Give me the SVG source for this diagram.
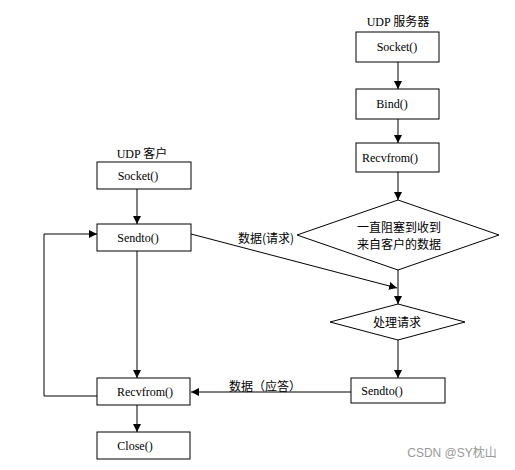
<svg xmlns="http://www.w3.org/2000/svg" width="515" height="470" viewBox="0 0 515 470">
<style>
.box{fill:#fff;stroke:#000;stroke-width:1}
.t{font-family:'Liberation Serif','Times New Roman',serif;font-size:12px;fill:#000;text-anchor:middle}
.c{font-family:'Noto Sans CJK SC',sans-serif;font-size:12px;fill:#000;text-anchor:middle}
.ln{fill:none;stroke:#000;stroke-width:1}
</style>
<defs>
<marker id="ah" markerWidth="10" markerHeight="10" refX="8" refY="4" orient="auto" markerUnits="userSpaceOnUse">
<path d="M0,0 L8,4 L0,8 z" fill="#000"/>
</marker>
</defs>
<rect width="515" height="470" fill="#fff"/>
<text class="t" x="398" y="26">UDP <tspan style="font-family:'Noto Sans CJK SC',sans-serif">服务器</tspan></text>
<text class="t" x="142" y="158">UDP <tspan style="font-family:'Noto Sans CJK SC',sans-serif">客户</tspan></text>
<g id="s_socket"><rect class="box" x="356" y="32" width="83" height="30"/><text class="t" x="397" y="51">Socket()</text></g>
<g id="s_bind"><rect class="box" x="356" y="89" width="83" height="30"/><text class="t" x="392" y="108">Bind()</text></g>
<g id="s_recv"><rect class="box" x="356" y="143" width="83" height="29"/><text class="t" x="390" y="162">Recvfrom()</text></g>
<g id="s_block"><polygon class="box" points="398,200 499,235 398,270 297,235"/><text class="c" x="399" y="232">一直阻塞到收到</text><text class="c" x="399" y="249">来自客户的数据</text></g>
<g id="s_proc"><polygon class="box" points="398,304 465,322 398,340 330,322"/><text class="c" x="397" y="327">处理请求</text></g>
<g id="s_send"><rect class="box" x="351" y="378" width="94" height="25"/><text class="t" x="382" y="395">Sendto()</text></g>
<g id="c_socket"><rect class="box" x="97" y="162" width="94" height="27"/><text class="t" x="138" y="180">Socket()</text></g>
<g id="c_send"><rect class="box" x="97" y="224" width="94" height="27"/><text class="t" x="138" y="242">Sendto()</text></g>
<g id="c_recv"><rect class="box" x="97" y="378" width="93" height="27"/><text class="t" x="145" y="396">Recvfrom()</text></g>
<g id="c_close"><rect class="box" x="97" y="432" width="93" height="27"/><text class="t" x="135" y="450">Close()</text></g>
<g id="connectors">
<line class="ln" x1="398" y1="62" x2="398" y2="89" marker-end="url(#ah)"/>
<line class="ln" x1="398" y1="119" x2="398" y2="143" marker-end="url(#ah)"/>
<line class="ln" x1="398" y1="172" x2="398" y2="200" marker-end="url(#ah)"/>
<line class="ln" x1="398" y1="270" x2="398" y2="304" marker-end="url(#ah)"/>
<line class="ln" x1="398" y1="340" x2="398" y2="378" marker-end="url(#ah)"/>
<line class="ln" x1="191" y1="234" x2="397" y2="288" marker-end="url(#ah)"/>
<line class="ln" x1="351" y1="392" x2="191" y2="392" marker-end="url(#ah)"/>
<line class="ln" x1="137" y1="189" x2="137" y2="224" marker-end="url(#ah)"/>
<line class="ln" x1="137" y1="251" x2="137" y2="378" marker-end="url(#ah)"/>
<line class="ln" x1="137" y1="405" x2="137" y2="432" marker-end="url(#ah)"/>
<polyline class="ln" points="97,396 44,396 44,234 97,234" marker-end="url(#ah)"/>
</g>
<text class="c" x="266" y="243">数据(请求)</text>
<text class="c" x="265" y="391">数据（应答）</text>
<text x="452" y="457" style="font-family:'Liberation Sans','Noto Sans CJK SC',sans-serif" font-size="12" fill="#999" text-anchor="middle">CSDN @SY枕山</text>
</svg>
